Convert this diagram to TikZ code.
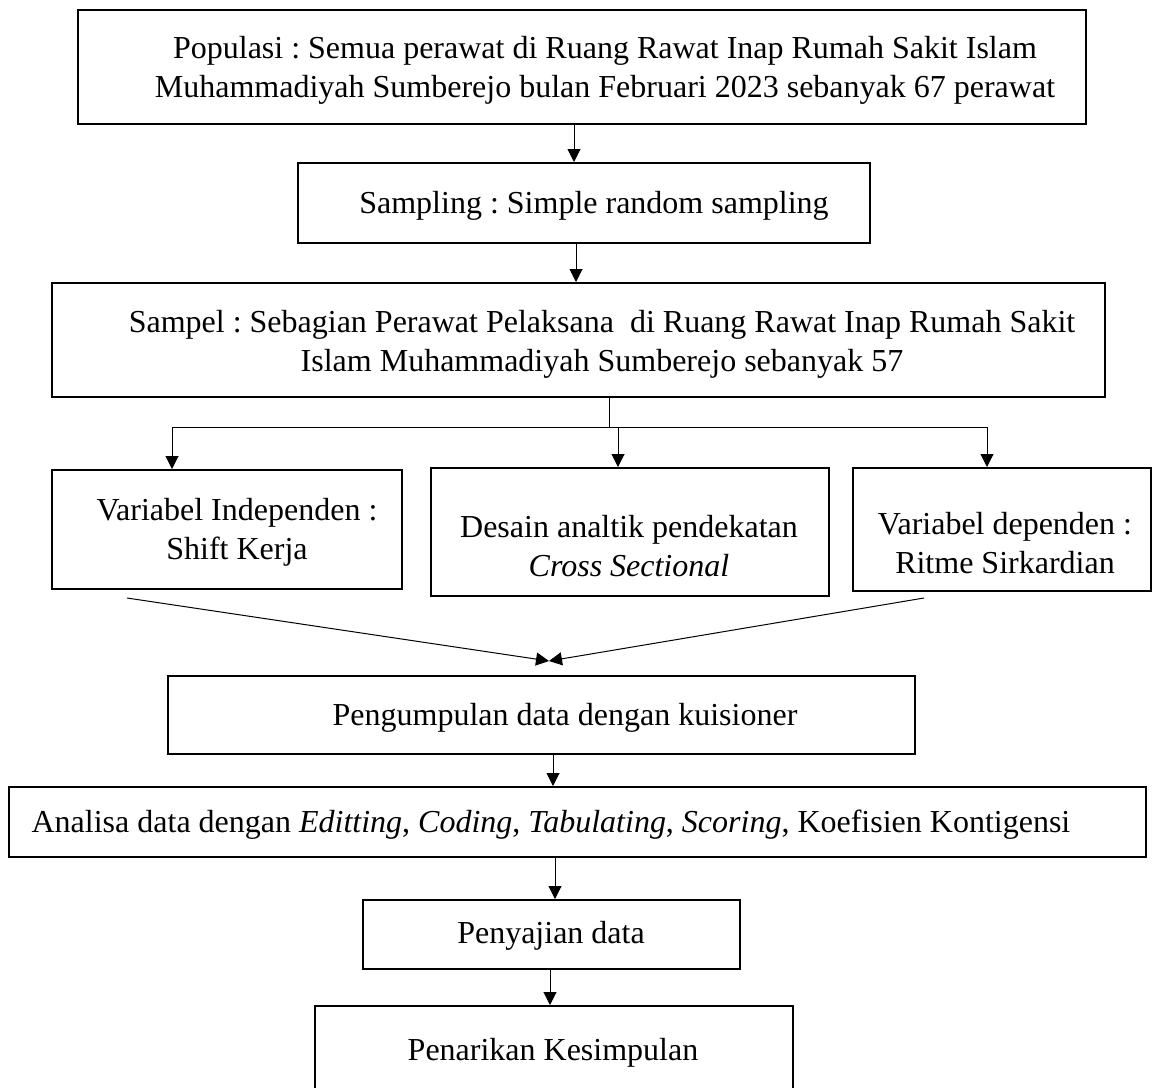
\documentclass[tikz,border=0pt]{standalone}
\usepackage{fontspec}
\setmainfont{Liberation Serif}
\usetikzlibrary{arrows.meta}
\frenchspacing
\begin{document}
\begin{tikzpicture}[x=1pt,y=-1pt,
  box/.style={draw, line width=2pt, rectangle, inner sep=0pt},
  txt/.style={align=center, inner sep=0pt, font=\fontsize{32}{39}\selectfont},
  link/.style={line width=1pt},
  conn/.style={line width=1pt, -{Triangle[length=13pt,width=13pt]}}]
\useasboundingbox (0,0) rectangle (1153,1087);
\clip (0,0) rectangle (1153,1087);
% boxes
\node[box, minimum width=1008pt, minimum height=114pt] (b1) at (582,67) {};
\node[box, minimum width=572pt, minimum height=80pt] (b2) at (584,203) {};
\node[box, minimum width=1053pt, minimum height=114pt] (b3) at (578.5,340) {};
\node[box, minimum width=350pt, minimum height=119pt] (b4a) at (227,529.5) {};
\node[box, minimum width=398pt, minimum height=128pt] (b4b) at (630,532) {};
\node[box, minimum width=298pt, minimum height=123pt] (b4c) at (1002,529.5) {};
\node[box, minimum width=747pt, minimum height=78pt] (b5) at (541.5,715) {};
\node[box, minimum width=1137pt, minimum height=70pt] (b6) at (577.5,822) {};
\node[box, minimum width=377pt, minimum height=69pt] (b7) at (551.5,934.5) {};
\node[box, minimum width=478pt, minimum height=83pt] (b8) at (554,1047.5) {};
% texts
\node[txt] (t1) at (605,70) {Populasi : Semua perawat di Ruang Rawat Inap Rumah Sakit Islam\\Muhammadiyah Sumberejo bulan Februari 2023 sebanyak 67 perawat};
\node[txt] (t2) at (594,206) {Sampling : Simple random sampling};
\node[txt] (t3) at (602,344) {Sampel : Sebagian Perawat Pelaksana\ \ di Ruang Rawat Inap Rumah Sakit\\Islam Muhammadiyah Sumberejo sebanyak 57};
\node[txt] (t4a) at (237,532) {Variabel Independen :\\Shift Kerja};
\node[txt] (t4b) at (629,546) {Desain analtik pendekatan\\\textit{Cross Sectional}};
\node[txt] (t4c) at (1005,543) {Variabel dependen :\\Ritme Sirkardian};
\node[txt] (t5) at (565,718) {Pengumpulan data dengan kuisioner};
\node[txt] (t6) at (551,825) {Analisa data dengan \textit{Editting}, \textit{Coding}, \textit{Tabulating}, \textit{Scoring}, Koefisien Kontigensi};
\node[txt] (t7) at (551,936) {Penyajian data};
\node[txt] (t8) at (553,1053) {Penarikan Kesimpulan};
% connector coordinates
\coordinate (split) at (609,427);
\coordinate (hl) at (172,427);
\coordinate (hm) at (618,427);
\coordinate (hr) at (987,427);
\coordinate (la) at (127,598);
\coordinate (ra) at (924,598);
\coordinate (meet) at (549,661);
% connectors
\draw[conn] ([xshift=-8pt]b1.south) -- ([xshift=-10pt]b2.north);
\draw[conn] ([xshift=-8pt]b2.south) -- ([xshift=-2.5pt]b3.north);
\draw[link] ([xshift=30.5pt]b3.south) -- (split);
\draw[link] (hl) -- (hr);
\draw[conn] (hl) -- ([xshift=-55pt]b4a.north);
\draw[conn] (hm) -- ([xshift=-12pt]b4b.north);
\draw[conn] (hr) -- ([xshift=-15pt]b4c.north);
\draw[conn] (la) -- (meet);
\draw[conn] (ra) -- (meet);
\draw[conn] ([xshift=11.5pt]b5.south) -- ([xshift=-24.5pt]b6.north);
\draw[conn] ([xshift=-22.5pt]b6.south) -- ([xshift=3.5pt]b7.north);
\draw[conn] ([xshift=-1.5pt]b7.south) -- ([xshift=-4pt]b8.north);
\end{tikzpicture}
\end{document}
